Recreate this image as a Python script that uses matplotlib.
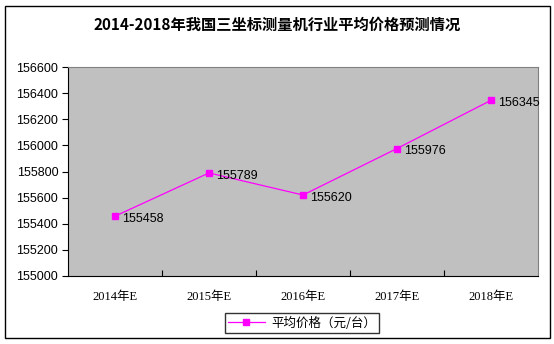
import matplotlib
matplotlib.use("Agg")
import matplotlib.pyplot as plt
from matplotlib.patches import Rectangle

plt.rcParams['font.family'] = ['Noto Sans CJK SC', 'DejaVu Sans']

categories = ["2014年E", "2015年E", "2016年E", "2017年E", "2018年E"]
values = [155458, 155789, 155620, 155976, 156345]
yticks = [155000, 155200, 155400, 155600, 155800, 156000, 156200, 156400, 156600]
title = "2014-2018年我国三坐标测量机行业平均价格预测情况"
series_name = "平均价格（元/台）"

W, H = 554, 344
fig = plt.figure(figsize=(W/100, H/100), dpi=100)
fig.patch.set_facecolor("white")
fig.add_artist(Rectangle((5/W, 6/H), 545/W, 332/H, transform=fig.transFigure,
                         fill=False, edgecolor="black", linewidth=1))

left, right, top, bottom = 68, 538, 67, 276
ax = fig.add_axes([left/W, 1-bottom/H, (right-left)/W, (bottom-top)/H])
ax.set_facecolor("#c0c0c0")
x = list(range(len(categories)))
ax.plot(x, values, color="#ff00ff", linewidth=0.9, marker="s", markersize=4.5,
        label=series_name)
for xi, v in zip(x, values):
    ax.annotate(str(v), (xi, v), xytext=(5, -2), textcoords="offset points",
                ha="left", va="center", fontsize=9, family=["Liberation Sans"])
ax.set_xlim(-0.5, len(categories)-0.5)
ax.set_ylim(yticks[0], yticks[-1])
ax.set_yticks(yticks)
ax.set_yticklabels([str(t) for t in yticks], fontsize=9, family=["Liberation Sans"])
ax.set_xticks([i+0.5 for i in range(len(categories)-1)])
ax.set_xticklabels([])
ax.tick_params(axis="x", length=4, direction="in")
ax.tick_params(axis="y", length=4, direction="out", pad=3)
for i, c in enumerate(categories):
    ax.text(i, -0.1, c, transform=ax.get_xaxis_transform(), ha="center", va="center",
            fontsize=9, family=["Liberation Serif", "Noto Sans CJK SC"])
for s in ax.spines.values():
    s.set_color("#808080")
ax.spines["left"].set_color("black")
ax.spines["bottom"].set_color("black")

fig.text(0.5, 1-25/H, title, ha="center", va="center", fontsize=11, fontweight="bold")

leg = ax.legend(loc="center", bbox_to_anchor=((302-left)/(right-left), -(323-bottom)/(bottom-top)),
                frameon=True, fancybox=False, edgecolor="black",
                handlelength=3, borderpad=0.25, handletextpad=0.5, prop={"size": 9})
leg.get_frame().set_linewidth(1)

fig.savefig("out.png", dpi=100)
